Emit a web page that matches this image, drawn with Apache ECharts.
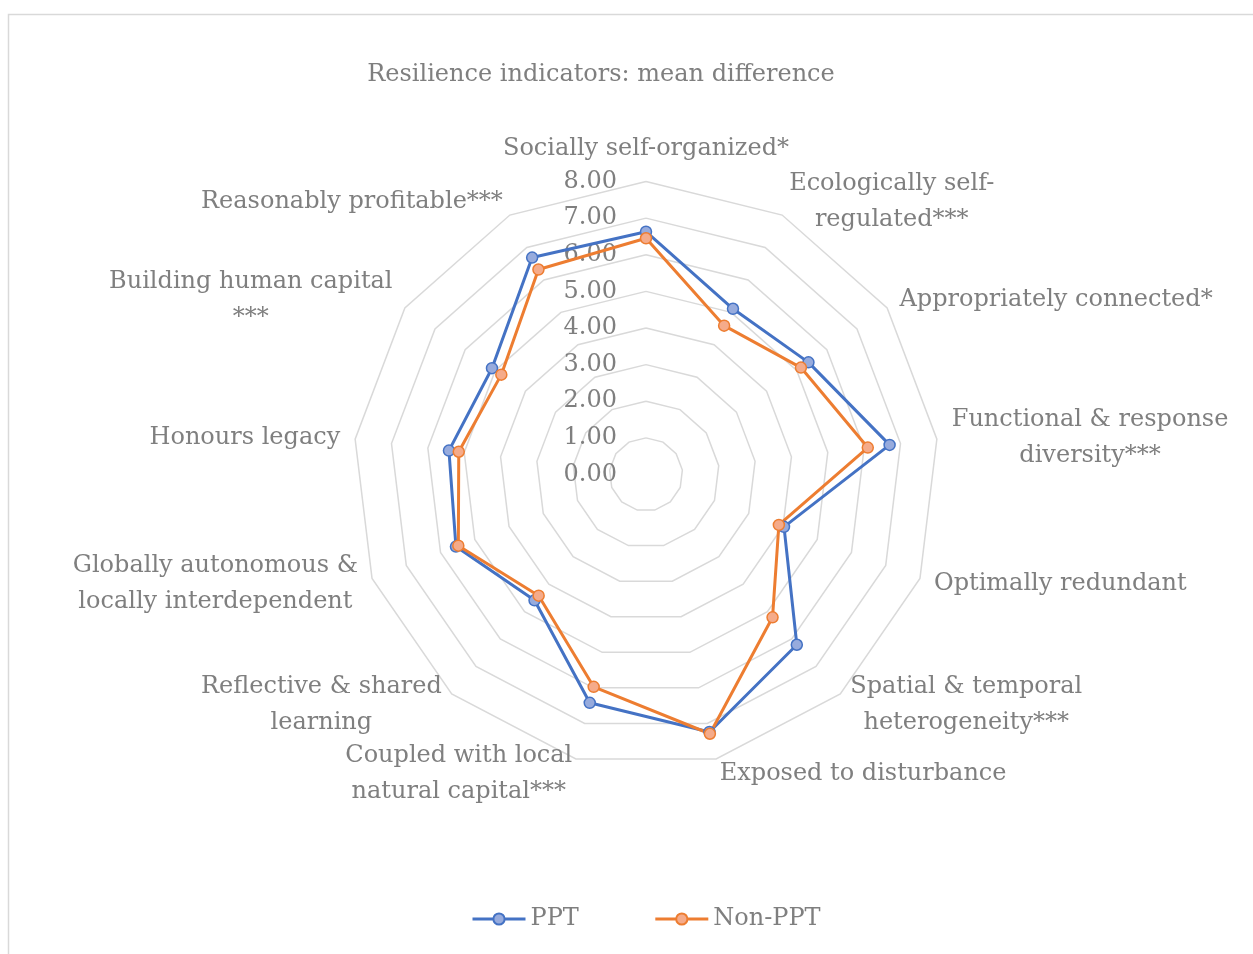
<!DOCTYPE html>
<html><head><meta charset="utf-8">
<script src="https://cdn.jsdelivr.net/npm/echarts@6/dist/echarts.min.js"></script>
<style>html,body{margin:0;padding:0;background:#fff}#c{width:1253px;height:954px}</style>
</head><body><div id="c"></div>
<script>
// ---- data ----
const indicatorNames = [
  "Socially self-organized*",
  "Ecologically self-\nregulated***",
  "Appropriately connected*",
  "Functional & response\ndiversity***",
  "Optimally redundant",
  "Spatial & temporal\nheterogeneity***",
  "Exposed to disturbance",
  "Coupled with local\nnatural capital***",
  "Reflective & shared\nlearning",
  "Globally autonomous &\nlocally interdependent",
  "Honours legacy",
  "Building human capital\n***",
  "Reasonably profitable***"
];
const pptValues    = [6.63, 5.11, 5.39, 6.70, 4.03, 6.21, 7.24, 6.42, 4.59, 5.55, 5.42, 5.11, 6.69];
const nonPptValues = [6.45, 4.59, 5.14, 6.10, 3.88, 5.21, 7.29, 5.97, 4.42, 5.48, 5.15, 4.80, 6.32];
const seriesNames  = ["PPT", "Non-PPT"];
const axisMin = 0, axisMax = 8, axisSplits = 8;
const titleText = "Resilience indicators: mean difference";

// ---- chart ----
const FONT = "DejaVu Serif";
const TEXT = "#7f7f7f";
const LINE_COLORS = ['#4472c4', '#ed7d31'];
const FILL_COLORS = ['#97abdd', '#f5ab8a'];
// ECharts radar runs counter-clockwise; reorder so indicators run clockwise like the reference
const order = [0].concat(indicatorNames.map((_, i) => i).slice(1).reverse());

const chart = echarts.init(document.getElementById('c'), null, {renderer: 'canvas'});
chart.setOption({
  backgroundColor: '#fff',
  animation: false,
  title: {
    text: titleText, left: 596, top: 58, textAlign: 'center',
    textStyle: {color: TEXT, fontFamily: FONT, fontSize: 24, fontWeight: 'normal'}
  },
  graphic: [{
    type: 'rect', silent: true,
    shape: {x: 8.5, y: 14.5, width: 1400, height: 1100},
    style: {fill: 'none', stroke: '#d9d9d9', lineWidth: 1.5}
  }],
  legend: {
    bottom: 18, left: 466,
    data: seriesNames,
    itemWidth: 53, itemHeight: 14, itemGap: 75,
    lineStyle: {width: 3},
    textStyle: {color: TEXT, fontFamily: FONT, fontSize: 24}
  },
  // hidden cartesian system only used so the legend gets a line+marker icon
  grid: {show: false, left: 0, top: 0, width: 10, height: 10},
  xAxis: {show: false, type: 'category', data: []},
  yAxis: {show: false, type: 'value'},
  radar: {
    center: [646, 474.5], radius: 293,
    startAngle: 90, shape: 'polygon', splitNumber: axisSplits,
    nameGap: 15,
    indicator: order.map((i, k) => {
      const o = {name: indicatorNames[i], min: axisMin, max: axisMax};
      if (k === 0) o.axisLabel = {show: true};
      return o;
    }),
    axisName: {
      color: TEXT, fontFamily: FONT, fontSize: 24, lineHeight: 36,
      formatter: name => name.split('\n').map(l => '{c|' + l + '}').join('\n'),
      rich: {c: {align: 'center', color: TEXT, fontFamily: FONT, fontSize: 24, lineHeight: 36}}
    },
    splitLine: {lineStyle: {color: '#d9d9d9', width: 1.5}},
    splitArea: {show: false},
    axisLine: {show: false},
    axisTick: {show: false},
    axisLabel: {
      show: false, color: TEXT, fontFamily: FONT, fontSize: 24, margin: 29,
      formatter: v => v.toFixed(2)
    }
  },
  series: seriesNames.map((n, s) => ({
    type: 'line', name: n, data: [], silent: true,
    symbol: 'circle', symbolSize: 11,
    lineStyle: {color: LINE_COLORS[s], width: 3},
    itemStyle: {color: FILL_COLORS[s], borderColor: LINE_COLORS[s], borderWidth: 1.5}
  })).concat([{
    type: 'radar',
    symbol: 'circle', symbolSize: 11,
    data: [pptValues, nonPptValues].map((vals, s) => ({
      name: seriesNames[s], value: order.map(i => vals[i]),
      lineStyle: {color: LINE_COLORS[s], width: 3},
      itemStyle: {color: FILL_COLORS[s], borderColor: LINE_COLORS[s], borderWidth: 1.5}
    }))
  }])
});
</script></body></html>
